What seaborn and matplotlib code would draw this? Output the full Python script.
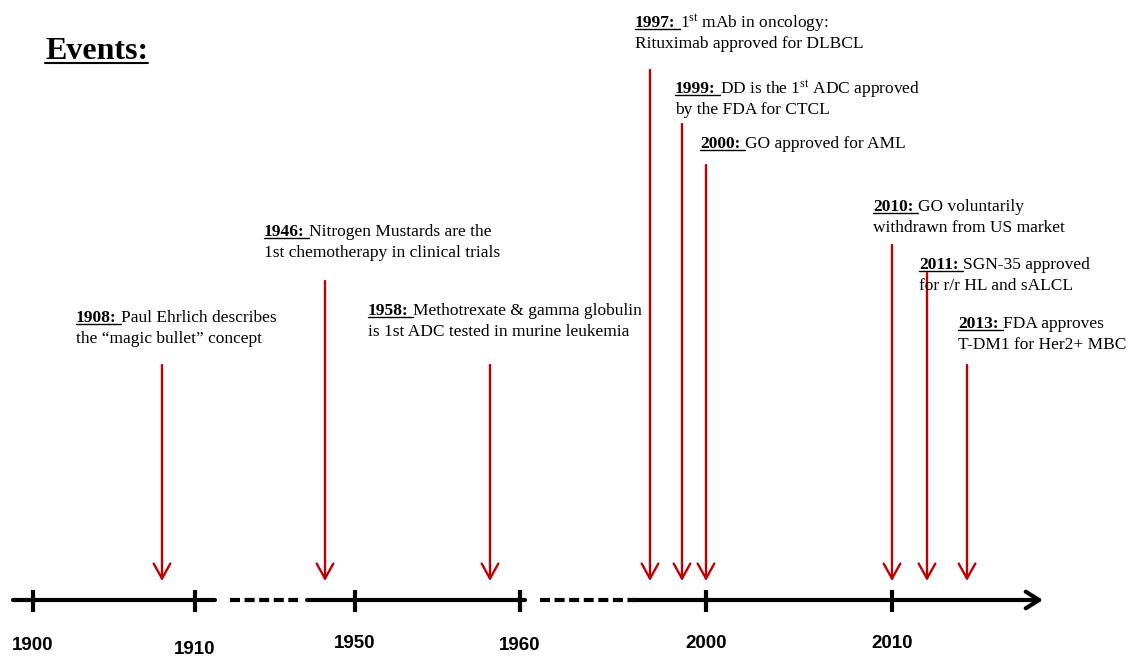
import numpy as np
import pandas as pd
import matplotlib
matplotlib.use("Agg")
import matplotlib.pyplot as plt
import seaborn as sns

# ---- data ----
event_years = ["1908", "1946", "1958", "1997", "1999", "2000", "2010", "2011", "2013"]
event_line1 = [
    "Paul Ehrlich describes",
    "Nitrogen Mustards are the",
    "Methotrexate & gamma globulin",
    r"1$^{\mathrm{st}}$ mAb in oncology:",
    r"DD is the 1$^{\mathrm{st}}$ ADC approved",
    "GO approved for AML",
    "GO voluntarily",
    "SGN-35 approved",
    "FDA approves",
]
event_line2 = [
    "the \u201cmagic bullet\u201d concept",
    "1st chemotherapy in clinical trials",
    "is 1st ADC tested in murine leukemia",
    "Rituximab approved for DLBCL",
    "by the FDA for CTCL",
    "",
    "withdrawn from US market",
    "for r/r HL and sALCL",
    "T-DM1 for Her2+ MBC",
]
tick_labels = ["1900", "1910", "1950", "1960", "2000", "2010"]

# ---- layout (pixel units, broken time axis) ----
tick_x = [33, 195, 355, 520, 706, 892]
tick_label_y = [645, 649, 644, 646, 644, 644]
arrow_x = [162, 325, 490, 650, 682, 706, 892, 927, 967]
arrow_top = [365, 281, 365, 70, 124, 165, 245, 273, 365]
text_x = [76, 264, 368, 635, 675, 700, 873, 919, 958]
text_base = [322, 236, 315, 27, 93, 148, 211, 269, 328]

RED = "#C00000"
AXIS_Y = 600

sns.set_theme(style="white")
plt.rcParams["mathtext.fontset"] = "custom"
plt.rcParams["mathtext.rm"] = "Liberation Serif"
plt.rcParams["mathtext.bf"] = "Liberation Serif:bold"
plt.rcParams["mathtext.it"] = "Liberation Serif:italic"

fig = plt.figure(figsize=(11.28, 6.56), dpi=100)
ax = fig.add_axes([0, 0, 1, 1])
ax.set_xlim(0, 1128)
ax.set_ylim(656, 0)
ax.axis("off")

# timeline segments
segs = pd.DataFrame({
    "x": [13, 215, 230, 298, 307, 525, 540, 634],
    "y": [AXIS_Y] * 8,
    "seg": [0, 0, 1, 1, 2, 2, 3, 3],
    "kind": ["solid", "solid", "dashed", "dashed", "solid", "solid", "dashed", "dashed"],
})
sns.lineplot(data=segs, x="x", y="y", units="seg", estimator=None, style="kind",
             dashes={"solid": "", "dashed": (2.4, 1.1)}, color="black", lw=3,
             legend=False, ax=ax)
ax.annotate("", xy=(1043, AXIS_Y), xytext=(632, AXIS_Y),
            arrowprops=dict(arrowstyle="->,head_length=0.8,head_width=0.5",
                            color="black", lw=3, shrinkA=0, shrinkB=0))

# ticks + labels
ax.vlines(tick_x, AXIS_Y - 10, AXIS_Y + 12, color="black", lw=3)
for x, y, lab in zip(tick_x, tick_label_y, tick_labels):
    ax.text(x, y, lab, ha="center", va="center", fontsize=13.5, fontweight="bold",
            family="Liberation Sans", color="black")

# event arrows
for x, top in zip(arrow_x, arrow_top):
    ax.annotate("", xy=(x, 581), xytext=(x, top),
                arrowprops=dict(arrowstyle="->,head_length=0.9,head_width=0.5",
                                color=RED, lw=1.7, shrinkA=0, shrinkB=0))

# event texts: bold underlined year, then description
renderer = fig.canvas.get_renderer()
FS = 12.5
for yr, l1, l2, x, yb in zip(event_years, event_line1, event_line2, text_x, text_base):
    t = ax.text(x, yb, yr + ":", fontsize=FS, fontweight="bold", family="Liberation Serif",
                va="baseline", ha="left", color="black")
    w = t.get_window_extent(renderer).width
    gap = 4.5
    ax.plot([x, x + w + gap], [yb + 2, yb + 2], color="black", lw=1)
    ax.text(x + w + gap, yb, l1, fontsize=FS, family="Liberation Serif",
            va="baseline", ha="left", color="black")
    if l2:
        ax.text(x, yb + 21, l2, fontsize=FS, family="Liberation Serif",
                va="baseline", ha="left", color="black")

# title
t = ax.text(45, 59, "Events:", fontsize=23, fontweight="bold", family="Liberation Serif",
            va="baseline", ha="left", color="black")
w = t.get_window_extent(renderer).width
ax.plot([45, 45 + w], [63, 63], color="black", lw=1.5)

fig.savefig("out.png", dpi=100, facecolor="white")
